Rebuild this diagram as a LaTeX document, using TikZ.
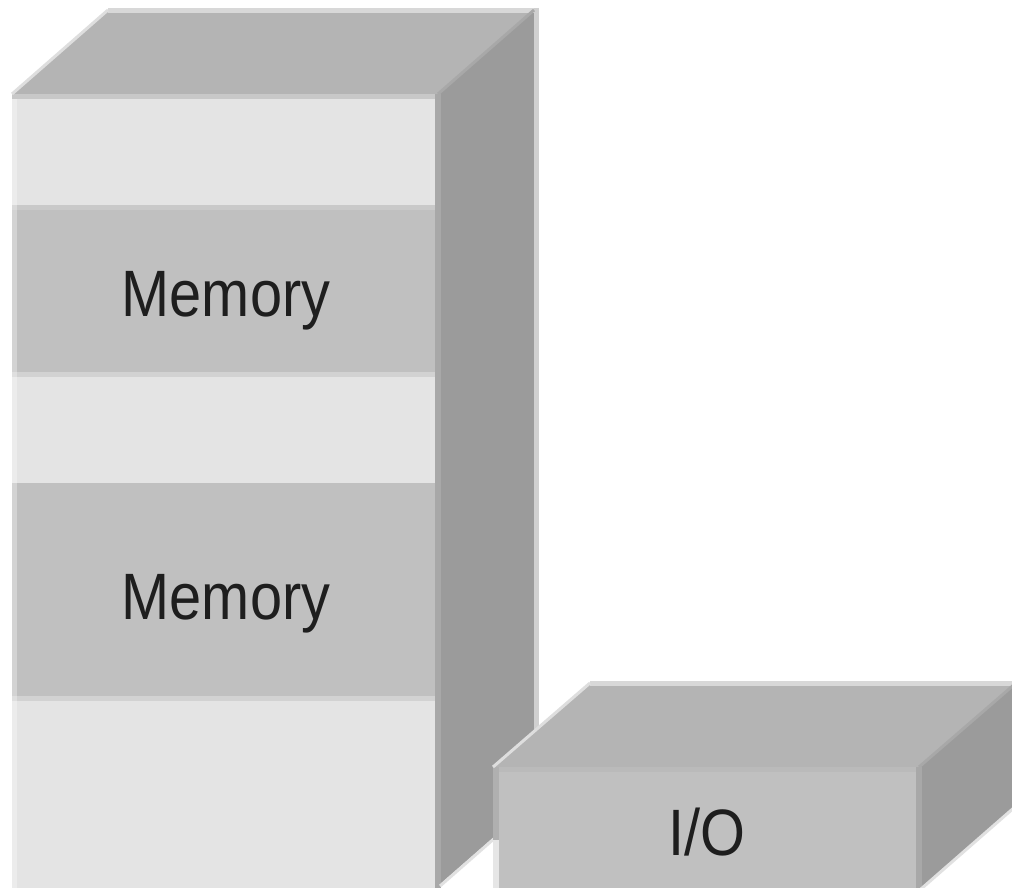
\documentclass[tikz,border=0pt]{standalone}
\usepackage{graphicx}
\usepackage{fontspec}
\setmainfont{Liberation Sans}
\definecolor{facelight}{HTML}{E4E4E4}
\definecolor{facemid}{HTML}{C0C0C0}
\definecolor{facetop}{HTML}{B4B4B4}
\definecolor{faceside}{HTML}{9B9B9B}
\definecolor{edgedark}{HTML}{A8A8A8}
\definecolor{edgetop}{HTML}{C8C8C8}
\definecolor{edgeback}{HTML}{D8D8D8}
\definecolor{edgeside}{HTML}{D0D0D0}
\definecolor{bandline}{HTML}{D2D2D2}
\definecolor{bandlinedark}{HTML}{C9C9C9}
\definecolor{ioleftedge}{HTML}{B0B0B0}
\definecolor{ioleftlow}{HTML}{E6E6E6}
\definecolor{textdark}{HTML}{1E1E1E}
\tikzset{
  lbl/.style={anchor=base, inner sep=0pt, text=textdark,
    font=\fontsize{65.6}{70}\selectfont},
  edge5/.style={line width=5pt},
}
\newcommand{\narrow}[1]{\scalebox{0.88}[1]{#1}}
\begin{document}
\begin{tikzpicture}[x=1pt,y=-1pt]
\useasboundingbox[fill=white] (0,0) rectangle (1012,888);

% ---------- tall box ----------
\fill[facelight] (12,94) rectangle (438,888);
\fill[facemid] (12,210) rectangle (438,372);
\fill[facemid] (12,483) rectangle (438,696);
\fill[bandlinedark] (12,205) rectangle (438,210);
\fill[bandline] (12,372) rectangle (438,377);
\fill[bandline] (12,696) rectangle (438,701);
\fill[facetop] (12,94) -- (438,94) -- (534,10) -- (108,10) -- cycle;
\fill[faceside] (438,94) -- (534,10) -- (534,802) -- (438,886) -- (438,888) -- cycle;
\draw[edge5, white, opacity=0.3] (14.5,99) -- (14.5,888);
\draw[edge5, edgetop] (12,96.5) -- (438,96.5);
\draw[edge5, edgeback] (108,10.5) -- (534,10.5);
\draw[edge5, edgeside] (536.5,8) -- (536.5,802);
\draw[line width=5.5pt, edgedark] (438,94) -- (438,888);
\draw[line width=3pt, edgedark] (438,94) -- (534,10);
\draw[line width=3pt, edgetop!60!white] (12,94) -- (108,10);
\draw[line width=3pt, white!70!faceside] (440,886) -- (536,802);

% ---------- I/O box ----------
\fill[facemid] (493,767) rectangle (919,888);
\fill[facetop] (493,767) -- (919,767) -- (1016,683) -- (590,683) -- cycle;
\fill[faceside] (919,767) -- (1016,683) -- (1016,806) -- (919,890) -- cycle;
\draw[edge5, facetop!50!facemid] (496,769.5) -- (919,769.5);
\draw[line width=6pt, ioleftedge] (496,767) -- (496,840);
\draw[line width=6pt, ioleftlow] (496,840) -- (496,888);
\draw[line width=6pt, edgedark] (919,767) -- (919,888);
\draw[edge5, edgeback] (590,683.5) -- (1016,683.5);
\draw[line width=3pt, edgedark] (919,767) -- (1016,683);
\draw[line width=3pt, edgetop!60!white] (493,767) -- (590,683);
\draw[line width=3pt, white!70!faceside] (921,889) -- (1016,806);

% ---------- labels ----------
\node[lbl] (mem1) at (226,316) {\narrow{Memory}};
\node[lbl] (mem2) at (226,619) {\narrow{Memory}};
\node[lbl] (io) at (707,855) {\narrow{I/O}};
\end{tikzpicture}
\end{document}
